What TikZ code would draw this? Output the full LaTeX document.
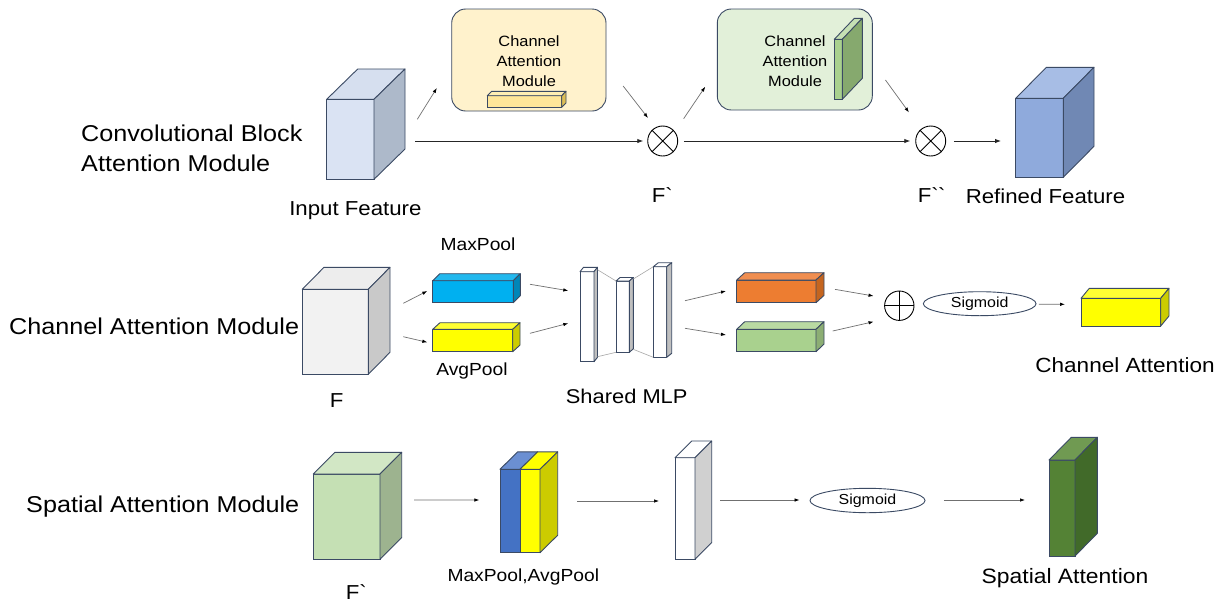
\documentclass[tikz,border=0pt]{standalone}
\usepackage{fontspec}
\setmainfont[FakeStretch=1.1]{Liberation Sans}
\usetikzlibrary{arrows.meta,shapes.geometric}
\definecolor{edgec}{HTML}{3B4A64}
\definecolor{arrgray}{HTML}{707070}
\definecolor{inF}{HTML}{DAE3F3}\definecolor{inT}{HTML}{D6DFEF}\definecolor{inS}{HTML}{ADB9CA}
\definecolor{yelbox}{HTML}{FFF2CC}\definecolor{grnbox}{HTML}{E2F0D9}
\definecolor{barF}{HTML}{FFE699}\definecolor{barT}{HTML}{FFEEB3}\definecolor{barS}{HTML}{DDBE55}
\definecolor{slF}{HTML}{A9D18E}\definecolor{slT}{HTML}{C5E0B4}\definecolor{slS}{HTML}{86A96E}
\definecolor{refF}{HTML}{8FAADC}\definecolor{refT}{HTML}{A7BDE5}\definecolor{refS}{HTML}{7088B4}
\definecolor{gF}{HTML}{F2F2F2}\definecolor{gT}{HTML}{EDEDED}\definecolor{gS}{HTML}{C9C9C9}
\definecolor{mpF}{HTML}{00B0F0}\definecolor{mpT}{HTML}{22B8EE}\definecolor{mpS}{HTML}{0086B8}
\definecolor{yF}{HTML}{FFFF00}\definecolor{yT}{HTML}{FFFF33}\definecolor{yS}{HTML}{CCCC00}
\definecolor{orF}{HTML}{ED7D31}\definecolor{orT}{HTML}{F08E50}\definecolor{orS}{HTML}{C5651F}
\definecolor{grF}{HTML}{A9D18E}\definecolor{grT}{HTML}{B9DAA2}\definecolor{grS}{HTML}{8CAE74}
\definecolor{mS}{HTML}{BFBFBF}
\definecolor{fpF}{HTML}{C5E0B4}\definecolor{fpT}{HTML}{D2E7C5}\definecolor{fpS}{HTML}{9DB38F}
\definecolor{blF}{HTML}{4472C4}\definecolor{blT}{HTML}{6B8FD2}
\definecolor{wsS}{HTML}{D0D0D0}
\definecolor{saF}{HTML}{548235}\definecolor{saT}{HTML}{709A52}\definecolor{saS}{HTML}{416A29}
\newcommand{\bq}{\XeTeXglyph\XeTeXcharglyph"60\relax}
\newcommand{\cubetop}[4]{%
  \draw[edgeline, fill=#4] (#1.north west) -- ([shift={(#2,#3)}]#1.north west) -- ([shift={(#2,#3)}]#1.north east) -- (#1.north east) -- cycle;}
\newcommand{\cubeside}[4]{%
  \draw[edgeline, fill=#4] (#1.north east) -- ([shift={(#2,#3)}]#1.north east) -- ([shift={(#2,#3)}]#1.south east) -- (#1.south east) -- cycle;}
\tikzset{
  face/.style={draw=edgec, line width=0.9pt, inner sep=0pt, outer sep=0pt, anchor=north west},
  edgeline/.style={draw=edgec, line width=0.9pt, line join=round},
  rbox/.style={draw=edgec, line width=0.9pt, rounded corners=14pt, inner sep=0pt},
  mainarr/.style={-{Latex[length=6pt,width=4.5pt]}, line width=0.9pt, draw=black!85},
  thinarr/.style={-{Latex[length=5pt,width=3.5pt,color=black]}, line width=0.7pt, draw=arrgray},
  mlpline/.style={line width=0.6pt, draw=gray!70},
  circ/.style={circle, draw=black, line width=0.9pt, minimum size=30pt, inner sep=0pt},
  sig/.style={ellipse, draw=edgec, line width=0.9pt, inner sep=0pt, font=\fontsize{14.5}{17}\selectfont},
  lbl/.style={anchor=base, inner sep=0pt, font=\fontsize{20.2}{24}\selectfont},
  bigl/.style={anchor=base west, inner sep=0pt, font=\fontsize{22.9}{27}\selectfont},
  pooll/.style={anchor=base, inner sep=0pt, font=\fontsize{17.5}{21}\selectfont},
  boxt/.style={align=center, inner sep=0pt, font=\fontsize{14.9}{20.3}\selectfont},
}
\begin{document}
\begin{tikzpicture}[x=1pt,y=-1pt]
\fill[white] (0,0) rectangle (1231,603);
\useasboundingbox (0,0) rectangle (1231,603);

% ---------- left labels
\node[bigl] (t1a) at (81,141) {Convolutional Block};
\node[bigl] (t1b) at (81,171) {Attention Module};
\node[bigl] (t2) at (9,334.3) {Channel Attention Module};
\node[bigl] (t3) at (26,512.7) {Spatial Attention Module};

% ---------- top row
\node[face, fill=inF, minimum width=47.3pt, minimum height=80pt] (inp) at (326.7,99.3) {};
\cubetop{inp}{31}{-30.3}{inT}
\cubeside{inp}{31}{-30.3}{inS}
\node[lbl] (inpl) at (355.4,215) {Input Feature};

\node[rbox, fill=yelbox, minimum width=154.3pt, minimum height=102pt] (cam1) at (528.85,60) {};
\node[boxt] (cam1t) at (529,61) {Channel\\Attention\\Module};
\node[face, fill=barF, minimum width=74.4pt, minimum height=11.6pt] (cab) at (487.3,95.7) {};
\cubetop{cab}{4.3}{-4.4}{barT}
\cubeside{cab}{4.3}{-4.4}{barS}

\node[circ] (ox1) at (662.7,141) {};
\draw[line width=0.9pt] (ox1.north west) -- (ox1.south east) (ox1.north east) -- (ox1.south west);
\node[lbl] (ox1l) at (662,202) {F\bq};

\node[rbox, fill=grnbox, minimum width=155pt, minimum height=101pt] (cam2) at (794.8,59.5) {};
\node[boxt] (cam2t) at (795,61) {Channel\\Attention\\Module};
\node[face, fill=slF, minimum width=8pt, minimum height=60pt] (cas) at (834.3,39.3) {};
\cubetop{cas}{20}{-21}{slT}
\cubeside{cas}{20}{-21}{slS}

\node[circ] (ox2) at (930.7,141) {};
\draw[line width=0.9pt] (ox2.north west) -- (ox2.south east) (ox2.north east) -- (ox2.south west);
\node[lbl] (ox2l) at (931.3,202.7) {F\bq\bq};

\node[face, fill=refF, minimum width=47.6pt, minimum height=79pt] (ref) at (1015.7,98.3) {};
\cubetop{ref}{30.7}{-31}{refT}
\cubeside{ref}{30.7}{-31}{refS}
\node[lbl] (refl) at (1045.5,203.3) {Refined Feature};

\draw[mainarr] ([shift={(41,1.7)}]inp.east) -- ([shift={(-4,0)}]ox1.west);
\draw[thinarr] ([shift={(43.3,-20)}]inp.east) -- ([shift={(-14.4,28)}]cam1.west);
\draw[thinarr] ([shift={(16.7,26)}]cam1.east) -- ([shift={(-3.8,-12.1)}]ox1.north west);
\draw[thinarr] ([shift={(10,-11.4)}]ox1.north east) -- ([shift={(-11.6,27.2)}]cam2.west);
\draw[mainarr] ([shift={(5.6,0)}]ox1.east) -- ([shift={(-5,0)}]ox2.west);
\draw[thinarr] ([shift={(12.7,20.5)}]cam2.east) -- ([shift={(-10.8,-17.7)}]ox2.north west);
\draw[mainarr] ([shift={(7.6,0)}]ox2.east) -- ([shift={(-14.7,3.2)}]ref.west);

% ---------- middle row
\node[face, fill=gF, minimum width=66pt, minimum height=85pt] (F) at (302.3,289.3) {};
\cubetop{F}{21.7}{-22}{gT}
\cubeside{F}{21.7}{-22}{gS}
\node[lbl] (Fl) at (336.7,407.7) {F};

\node[face, fill=mpF, minimum width=80.6pt, minimum height=22pt] (mp) at (432.7,280.7) {};
\cubetop{mp}{7}{-7}{mpT}
\cubeside{mp}{7}{-7}{mpS}
\node[pooll] (mpl) at (478,250.7) {MaxPool};

\node[face, fill=yF, minimum width=80pt, minimum height=22.4pt] (ap) at (432.7,329.3) {};
\cubetop{ap}{7.3}{-6.6}{yT}
\cubeside{ap}{7.3}{-6.6}{yS}
\node[pooll] (apl) at (472,375.7) {AvgPool};

\node[face, fill=white, minimum width=14pt, minimum height=90pt] (m1) at (580,271.7) {};
\cubetop{m1}{3.5}{-4.4}{white}
\cubeside{m1}{3.5}{-4.4}{mS}
\node[face, fill=white, minimum width=13.3pt, minimum height=71.3pt] (m2) at (616,281) {};
\cubetop{m2}{4}{-3.5}{white}
\cubeside{m2}{4}{-3.5}{mS}
\node[face, fill=white, minimum width=13.4pt, minimum height=90.6pt] (m3) at (653.3,266.7) {};
\cubetop{m3}{5}{-4}{white}
\cubeside{m3}{5}{-4}{mS}
\draw[mlpline] ([shift={(3.5,-2)}]m1.north east) -- (m2.north west);
\draw[mlpline] ([shift={(3.5,-5)}]m1.south east) -- (m2.south west);
\draw[mlpline] ([shift={(4,-2)}]m2.north east) -- (m3.north west);
\draw[mlpline] ([shift={(4,-3)}]m2.south east) -- (m3.south west);
\node[lbl, font=\fontsize{19.9}{24}\selectfont] (mlpl) at (626.7,403.3) {Shared MLP};

\node[face, fill=orF, minimum width=79.3pt, minimum height=22.7pt] (orb) at (736.7,280) {};
\cubetop{orb}{8}{-7.3}{orT}
\cubeside{orb}{8}{-7.3}{orS}
\node[face, fill=grF, minimum width=79.3pt, minimum height=22.4pt] (grb) at (736.7,329.3) {};
\cubetop{grb}{8}{-7.6}{grT}
\cubeside{grb}{8}{-7.6}{grS}

\node[circ, minimum size=29.4pt] (op) at (899.3,305.7) {};
\draw[line width=0.9pt] (op.north) -- (op.south) (op.west) -- (op.east);

\node[sig, minimum width=112.7pt, minimum height=24pt] (sg1) at (979.7,303.7) {Sigmoid};

\node[face, fill=yF, minimum width=79.7pt, minimum height=27.7pt] (ca) at (1081,298.3) {};
\cubetop{ca}{8.3}{-10}{yT}
\cubeside{ca}{8.3}{-10}{yS}
\node[lbl, font=\fontsize{20.5}{24}\selectfont] (cal) at (1125,372.3) {Channel Attention};

\draw[thinarr] ([shift={(35,-28.5)}]F.east) -- ([shift={(-5.4,-0.7)}]mp.west);
\draw[thinarr] ([shift={(35,4.9)}]F.east) -- ([shift={(-5.4,1.8)}]ap.west);
\draw[thinarr] ([shift={(16.7,-7.4)}]mp.east) -- ([shift={(-11.7,-26)}]m1.west);
\draw[thinarr] ([shift={(17.3,-7.2)}]ap.east) -- ([shift={(-11.7,6.6)}]m1.west);
\draw[thinarr] ([shift={(18.3,-11.3)}]m3.east) -- ([shift={(-10.7,-0.35)}]orb.west);
\draw[thinarr] ([shift={(18.3,16.3)}]m3.east) -- ([shift={(-10.7,-5.5)}]grb.west);
\draw[thinarr] ([shift={(19,-2)}]orb.east) -- ([shift={(-10.6,-9.7)}]op.west);
\draw[thinarr] ([shift={(16.7,-9.5)}]grb.east) -- ([shift={(-10.6,16)}]op.west);
\draw[thinarr] ([shift={(2.3,0.6)}]sg1.east) -- ([shift={(-16,-7.85)}]ca.west);

% ---------- bottom row
\node[face, fill=fpF, minimum width=66.7pt, minimum height=85.3pt] (Fp) at (313.3,474) {};
\cubetop{Fp}{21.7}{-21.7}{fpT}
\cubeside{Fp}{21.7}{-21.7}{fpS}
\node[lbl] (Fpl) at (356,599.5) {F\bq};

\node[face, fill=blF, minimum width=20pt, minimum height=83.4pt] (bl) at (500,469.3) {};
\cubetop{bl}{17.7}{-17.5}{blT}
\node[face, fill=yF, minimum width=20pt, minimum height=83.4pt] (yl) at (520,469.3) {};
\cubetop{yl}{17.7}{-17.5}{yF}
\cubeside{yl}{17.7}{-17.5}{yS}
\node[pooll] (pooll2) at (523.3,581.7) {MaxPool,AvgPool};

\node[face, fill=white, minimum width=20pt, minimum height=101.6pt] (ws) at (675,457.7) {};
\cubetop{ws}{16.7}{-16.7}{white}
\cubeside{ws}{16.7}{-16.7}{wsS}

\node[sig, minimum width=115pt, minimum height=24.4pt] (sg2) at (867.5,500.5) {Sigmoid};

\node[face, fill=saF, minimum width=26pt, minimum height=96pt] (sa) at (1049,460) {};
\cubetop{sa}{22.3}{-22.7}{saT}
\cubeside{sa}{22.3}{-22.7}{saS}
\node[lbl, font=\fontsize{20.8}{24}\selectfont] (sal) at (1065,583.3) {Spatial Attention};

\draw[thinarr] ([shift={(34,-16.7)}]Fp.east) -- ([shift={(-20.7,-11)}]bl.west);
\draw[thinarr] ([shift={(37.3,-10)}]yl.east) -- ([shift={(-16,-7.5)}]ws.west);
\draw[thinarr] ([shift={(25,-8.5)}]ws.east) -- ([shift={(-10,-0.5)}]sg2.west);
\draw[thinarr] ([shift={(18.3,-0.5)}]sg2.east) -- ([shift={(-24,-8)}]sa.west);
\end{tikzpicture}
\end{document}
